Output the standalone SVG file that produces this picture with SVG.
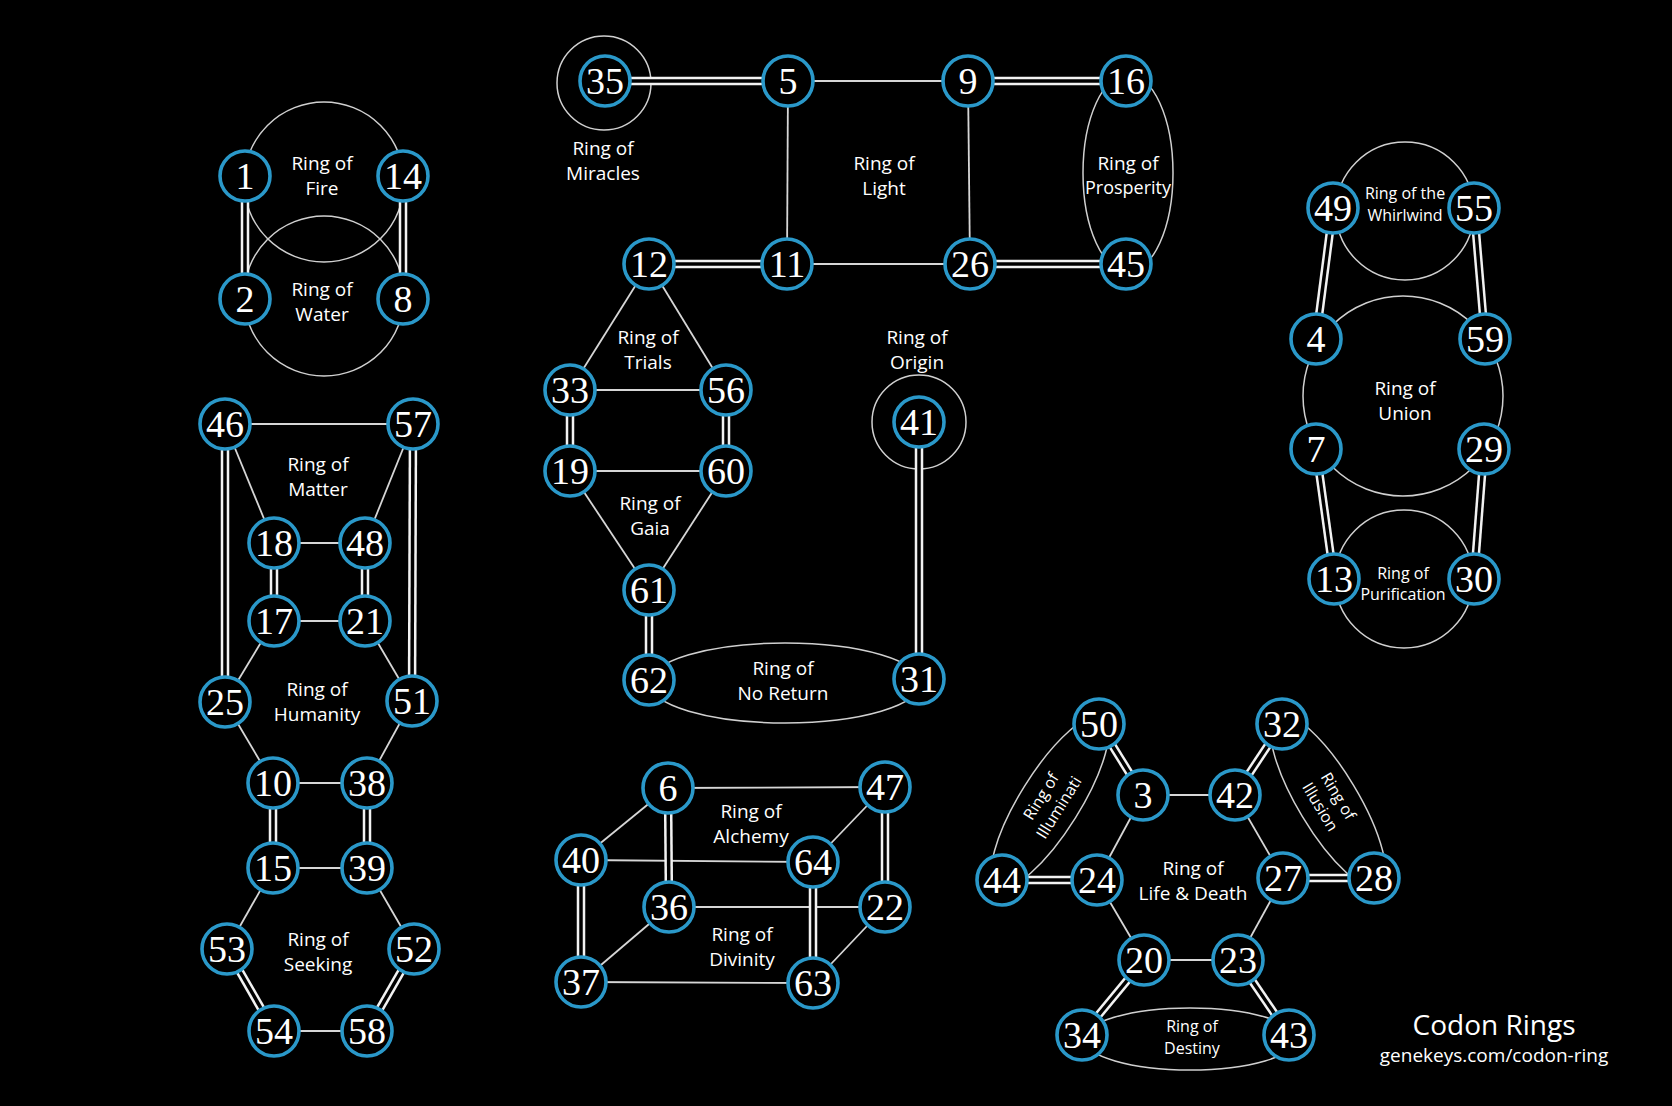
<svg xmlns="http://www.w3.org/2000/svg" width="1672" height="1106" viewBox="0 0 1672 1106">
<style>
.bg{fill:#000}
.ring{fill:none;stroke:#d0d0d0;stroke-width:1.5}
.s{stroke:#d6d6d6;stroke-width:1.8}
.dw{stroke:#f2f2f2;stroke-width:8.5}
.db{stroke:#000;stroke-width:3.5}
.n circle{fill:#000;stroke:#2a98c9;stroke-width:3.6}
.n text{font-family:"Liberation Serif","Times New Roman",serif;font-size:38px;fill:#fff;text-anchor:middle}
.lb{font-family:"Open Sans","Noto Sans",sans-serif;font-size:19px;fill:#fff;text-anchor:middle}
.sm{font-size:16px}
</style>
<rect class="bg" x="0" y="0" width="1672" height="1106"/>
<g id="rings">
<circle class="ring" cx="324" cy="182" r="80"/>
<circle class="ring" cx="324" cy="296" r="80"/>
<circle class="ring" cx="604" cy="83" r="47"/>
<ellipse class="ring" cx="1128" cy="173" rx="45" ry="99"/>
<circle class="ring" cx="919" cy="422" r="47"/>
<ellipse class="ring" cx="785" cy="683" rx="136" ry="40"/>
<circle class="ring" cx="1405" cy="211" r="69"/>
<circle class="ring" cx="1403" cy="396" r="100"/>
<circle class="ring" cx="1404" cy="579" r="69"/>
<ellipse class="ring" cx="1190" cy="1039" rx="106" ry="31"/>
<ellipse class="ring" cx="1050" cy="802" rx="100" ry="30" transform="rotate(-58 1050 802)"/>
<ellipse class="ring" cx="1328" cy="801" rx="100" ry="30" transform="rotate(59 1328 801)"/>
</g>
<g id="connectors">
<g class="s">
<line x1="788" y1="81" x2="968" y2="81"/>
<line x1="788" y1="81" x2="787" y2="264"/>
<line x1="968" y1="81" x2="970" y2="264"/>
<line x1="787" y1="264" x2="970" y2="264"/>
<line x1="649" y1="264" x2="570" y2="390"/>
<line x1="649" y1="264" x2="726" y2="390"/>
<line x1="570" y1="390" x2="726" y2="390"/>
<line x1="570" y1="471" x2="726" y2="471"/>
<line x1="570" y1="471" x2="649" y2="590"/>
<line x1="726" y1="471" x2="649" y2="590"/>
<line x1="225" y1="424" x2="413" y2="424"/>
<line x1="225" y1="424" x2="274" y2="543"/>
<line x1="413" y1="424" x2="365" y2="543"/>
<line x1="274" y1="543" x2="365" y2="543"/>
<line x1="274" y1="621" x2="365" y2="621"/>
<line x1="274" y1="621" x2="225" y2="702"/>
<line x1="365" y1="621" x2="412" y2="701"/>
<line x1="225" y1="702" x2="273" y2="783"/>
<line x1="412" y1="701" x2="367" y2="783"/>
<line x1="273" y1="783" x2="367" y2="783"/>
<line x1="273" y1="868" x2="367" y2="868"/>
<line x1="273" y1="868" x2="227" y2="949"/>
<line x1="367" y1="868" x2="414" y2="949"/>
<line x1="274" y1="1031" x2="367" y2="1031"/>
<line x1="668" y1="788" x2="885" y2="787"/>
<line x1="668" y1="788" x2="581" y2="859"/>
<line x1="885" y1="787" x2="813" y2="862"/>
<line x1="581" y1="860" x2="813" y2="862"/>
<line x1="669" y1="907" x2="885" y2="907"/>
<line x1="669" y1="907" x2="581" y2="982"/>
<line x1="885" y1="907" x2="813" y2="983"/>
<line x1="581" y1="982" x2="813" y2="983"/>
<line x1="1143" y1="795" x2="1235" y2="795"/>
<line x1="1143" y1="795" x2="1097" y2="880"/>
<line x1="1235" y1="795" x2="1283" y2="878"/>
<line x1="1097" y1="880" x2="1144" y2="960"/>
<line x1="1283" y1="878" x2="1238" y2="960"/>
<line x1="1144" y1="960" x2="1238" y2="960"/>
</g>
<g class="dw">
<line x1="245" y1="176" x2="245" y2="299"/>
<line x1="403" y1="176" x2="403" y2="299"/>
<line x1="605" y1="81" x2="788" y2="81"/>
<line x1="968" y1="81" x2="1126" y2="81"/>
<line x1="649" y1="264" x2="787" y2="264"/>
<line x1="970" y1="264" x2="1126" y2="264"/>
<line x1="570" y1="390" x2="570" y2="471"/>
<line x1="726" y1="390" x2="726" y2="471"/>
<line x1="649" y1="590" x2="649" y2="680"/>
<line x1="919" y1="422" x2="919" y2="679"/>
<line x1="225" y1="424" x2="225" y2="702"/>
<line x1="413" y1="424" x2="412" y2="701"/>
<line x1="274" y1="543" x2="274" y2="621"/>
<line x1="365" y1="543" x2="365" y2="621"/>
<line x1="273" y1="783" x2="273" y2="868"/>
<line x1="367" y1="783" x2="367" y2="868"/>
<line x1="227" y1="949" x2="274" y2="1031"/>
<line x1="414" y1="949" x2="367" y2="1031"/>
<line x1="1333" y1="208" x2="1316" y2="339"/>
<line x1="1474" y1="208" x2="1485" y2="339"/>
<line x1="1316" y1="449" x2="1334" y2="579"/>
<line x1="1484" y1="449" x2="1474" y2="579"/>
<line x1="668" y1="788" x2="669" y2="907"/>
<line x1="885" y1="787" x2="885" y2="907"/>
<line x1="581" y1="860" x2="581" y2="982"/>
<line x1="813" y1="862" x2="813" y2="983"/>
<line x1="1099" y1="724" x2="1143" y2="795"/>
<line x1="1235" y1="795" x2="1282" y2="724"/>
<line x1="1002" y1="880" x2="1097" y2="880"/>
<line x1="1283" y1="878" x2="1374" y2="878"/>
<line x1="1144" y1="960" x2="1082" y2="1035"/>
<line x1="1238" y1="960" x2="1289" y2="1035"/>
</g>
<g class="db">
<line x1="245" y1="176" x2="245" y2="299"/>
<line x1="403" y1="176" x2="403" y2="299"/>
<line x1="605" y1="81" x2="788" y2="81"/>
<line x1="968" y1="81" x2="1126" y2="81"/>
<line x1="649" y1="264" x2="787" y2="264"/>
<line x1="970" y1="264" x2="1126" y2="264"/>
<line x1="570" y1="390" x2="570" y2="471"/>
<line x1="726" y1="390" x2="726" y2="471"/>
<line x1="649" y1="590" x2="649" y2="680"/>
<line x1="919" y1="422" x2="919" y2="679"/>
<line x1="225" y1="424" x2="225" y2="702"/>
<line x1="413" y1="424" x2="412" y2="701"/>
<line x1="274" y1="543" x2="274" y2="621"/>
<line x1="365" y1="543" x2="365" y2="621"/>
<line x1="273" y1="783" x2="273" y2="868"/>
<line x1="367" y1="783" x2="367" y2="868"/>
<line x1="227" y1="949" x2="274" y2="1031"/>
<line x1="414" y1="949" x2="367" y2="1031"/>
<line x1="1333" y1="208" x2="1316" y2="339"/>
<line x1="1474" y1="208" x2="1485" y2="339"/>
<line x1="1316" y1="449" x2="1334" y2="579"/>
<line x1="1484" y1="449" x2="1474" y2="579"/>
<line x1="668" y1="788" x2="669" y2="907"/>
<line x1="885" y1="787" x2="885" y2="907"/>
<line x1="581" y1="860" x2="581" y2="982"/>
<line x1="813" y1="862" x2="813" y2="983"/>
<line x1="1099" y1="724" x2="1143" y2="795"/>
<line x1="1235" y1="795" x2="1282" y2="724"/>
<line x1="1002" y1="880" x2="1097" y2="880"/>
<line x1="1283" y1="878" x2="1374" y2="878"/>
<line x1="1144" y1="960" x2="1082" y2="1035"/>
<line x1="1238" y1="960" x2="1289" y2="1035"/>
</g>
</g>
<g id="labels" class="lb">
<text x="322" y="170">Ring of</text><text x="322" y="195">Fire</text>
<text x="322" y="296">Ring of</text><text x="322" y="321">Water</text>
<text x="603" y="155">Ring of</text><text x="603" y="180">Miracles</text>
<text x="884" y="170">Ring of</text><text x="884" y="195">Light</text>
<text x="1128" y="170">Ring of</text><text x="1128" y="194" style="font-size:18px">Prosperity</text>
<text x="648" y="344">Ring of</text><text x="648" y="369">Trials</text>
<text x="650" y="510">Ring of</text><text x="650" y="535">Gaia</text>
<text x="917" y="344">Ring of</text><text x="917" y="369">Origin</text>
<text x="783" y="675">Ring of</text><text x="783" y="700">No Return</text>
<text x="318" y="471">Ring of</text><text x="318" y="496">Matter</text>
<text x="317" y="696">Ring of</text><text x="317" y="721">Humanity</text>
<text x="318" y="946">Ring of</text><text x="318" y="971">Seeking</text>
<text class="sm" x="1405" y="199">Ring of the</text><text class="sm" x="1405" y="221">Whirlwind</text>
<text x="1405" y="395">Ring of</text><text x="1405" y="420">Union</text>
<text class="sm" x="1403" y="579">Ring of</text><text class="sm" x="1403" y="600">Purification</text>
<text x="751" y="818">Ring of</text><text x="751" y="843">Alchemy</text>
<text x="742" y="941">Ring of</text><text x="742" y="966">Divinity</text>
<text x="1193" y="875">Ring of</text><text x="1193" y="900">Life &amp; Death</text>
<text class="sm" x="1192" y="1032">Ring of</text><text class="sm" x="1192" y="1054">Destiny</text>
<g transform="rotate(-58 1050 802)"><text class="sm" x="1050" y="797">Ring of</text><text class="sm" x="1050" y="818">Illuminati</text></g>
<g transform="rotate(59 1330 801)"><text class="sm" x="1330" y="797">Ring of</text><text class="sm" x="1330" y="818">Illusion</text></g>
<text x="1494" y="1035" style="font-size:28px">Codon Rings</text>
<text x="1494" y="1062" style="font-size:19px">genekeys.com/codon-ring</text>
</g>
<g id="nodes">
<g id="n1" class="n"><circle cx="245" cy="176" r="25"/><text x="245" y="189">1</text></g>
<g id="n14" class="n"><circle cx="403" cy="176" r="25"/><text x="403" y="189">14</text></g>
<g id="n2" class="n"><circle cx="245" cy="299" r="25"/><text x="245" y="312">2</text></g>
<g id="n8" class="n"><circle cx="403" cy="299" r="25"/><text x="403" y="312">8</text></g>
<g id="n35" class="n"><circle cx="605" cy="81" r="25"/><text x="605" y="94">35</text></g>
<g id="n5" class="n"><circle cx="788" cy="81" r="25"/><text x="788" y="94">5</text></g>
<g id="n9" class="n"><circle cx="968" cy="81" r="25"/><text x="968" y="94">9</text></g>
<g id="n16" class="n"><circle cx="1126" cy="81" r="25"/><text x="1126" y="94">16</text></g>
<g id="n12" class="n"><circle cx="649" cy="264" r="25"/><text x="649" y="277">12</text></g>
<g id="n11" class="n"><circle cx="787" cy="264" r="25"/><text x="787" y="277">11</text></g>
<g id="n26" class="n"><circle cx="970" cy="264" r="25"/><text x="970" y="277">26</text></g>
<g id="n45" class="n"><circle cx="1126" cy="264" r="25"/><text x="1126" y="277">45</text></g>
<g id="n33" class="n"><circle cx="570" cy="390" r="25"/><text x="570" y="403">33</text></g>
<g id="n56" class="n"><circle cx="726" cy="390" r="25"/><text x="726" y="403">56</text></g>
<g id="n19" class="n"><circle cx="570" cy="471" r="25"/><text x="570" y="484">19</text></g>
<g id="n60" class="n"><circle cx="726" cy="471" r="25"/><text x="726" y="484">60</text></g>
<g id="n61" class="n"><circle cx="649" cy="590" r="25"/><text x="649" y="603">61</text></g>
<g id="n62" class="n"><circle cx="649" cy="680" r="25"/><text x="649" y="693">62</text></g>
<g id="n31" class="n"><circle cx="919" cy="679" r="25"/><text x="919" y="692">31</text></g>
<g id="n41" class="n"><circle cx="919" cy="422" r="25"/><text x="919" y="435">41</text></g>
<g id="n46" class="n"><circle cx="225" cy="424" r="25"/><text x="225" y="437">46</text></g>
<g id="n57" class="n"><circle cx="413" cy="424" r="25"/><text x="413" y="437">57</text></g>
<g id="n18" class="n"><circle cx="274" cy="543" r="25"/><text x="274" y="556">18</text></g>
<g id="n48" class="n"><circle cx="365" cy="543" r="25"/><text x="365" y="556">48</text></g>
<g id="n17" class="n"><circle cx="274" cy="621" r="25"/><text x="274" y="634">17</text></g>
<g id="n21" class="n"><circle cx="365" cy="621" r="25"/><text x="365" y="634">21</text></g>
<g id="n25" class="n"><circle cx="225" cy="702" r="25"/><text x="225" y="715">25</text></g>
<g id="n51" class="n"><circle cx="412" cy="701" r="25"/><text x="412" y="714">51</text></g>
<g id="n10" class="n"><circle cx="273" cy="783" r="25"/><text x="273" y="796">10</text></g>
<g id="n38" class="n"><circle cx="367" cy="783" r="25"/><text x="367" y="796">38</text></g>
<g id="n15" class="n"><circle cx="273" cy="868" r="25"/><text x="273" y="881">15</text></g>
<g id="n39" class="n"><circle cx="367" cy="868" r="25"/><text x="367" y="881">39</text></g>
<g id="n53" class="n"><circle cx="227" cy="949" r="25"/><text x="227" y="962">53</text></g>
<g id="n52" class="n"><circle cx="414" cy="949" r="25"/><text x="414" y="962">52</text></g>
<g id="n54" class="n"><circle cx="274" cy="1031" r="25"/><text x="274" y="1044">54</text></g>
<g id="n58" class="n"><circle cx="367" cy="1031" r="25"/><text x="367" y="1044">58</text></g>
<g id="n49" class="n"><circle cx="1333" cy="208" r="25"/><text x="1333" y="221">49</text></g>
<g id="n55" class="n"><circle cx="1474" cy="208" r="25"/><text x="1474" y="221">55</text></g>
<g id="n4" class="n"><circle cx="1316" cy="339" r="25"/><text x="1316" y="352">4</text></g>
<g id="n59" class="n"><circle cx="1485" cy="339" r="25"/><text x="1485" y="352">59</text></g>
<g id="n7" class="n"><circle cx="1316" cy="449" r="25"/><text x="1316" y="462">7</text></g>
<g id="n29" class="n"><circle cx="1484" cy="449" r="25"/><text x="1484" y="462">29</text></g>
<g id="n13" class="n"><circle cx="1334" cy="579" r="25"/><text x="1334" y="592">13</text></g>
<g id="n30" class="n"><circle cx="1474" cy="579" r="25"/><text x="1474" y="592">30</text></g>
<g id="n6" class="n"><circle cx="668" cy="788" r="25"/><text x="668" y="801">6</text></g>
<g id="n47" class="n"><circle cx="885" cy="787" r="25"/><text x="885" y="800">47</text></g>
<g id="n40" class="n"><circle cx="581" cy="860" r="25"/><text x="581" y="873">40</text></g>
<g id="n64" class="n"><circle cx="813" cy="862" r="25"/><text x="813" y="875">64</text></g>
<g id="n36" class="n"><circle cx="669" cy="907" r="25"/><text x="669" y="920">36</text></g>
<g id="n22" class="n"><circle cx="885" cy="907" r="25"/><text x="885" y="920">22</text></g>
<g id="n37" class="n"><circle cx="581" cy="982" r="25"/><text x="581" y="995">37</text></g>
<g id="n63" class="n"><circle cx="813" cy="983" r="25"/><text x="813" y="996">63</text></g>
<g id="n50" class="n"><circle cx="1099" cy="724" r="25"/><text x="1099" y="737">50</text></g>
<g id="n32" class="n"><circle cx="1282" cy="724" r="25"/><text x="1282" y="737">32</text></g>
<g id="n3" class="n"><circle cx="1143" cy="795" r="25"/><text x="1143" y="808">3</text></g>
<g id="n42" class="n"><circle cx="1235" cy="795" r="25"/><text x="1235" y="808">42</text></g>
<g id="n44" class="n"><circle cx="1002" cy="880" r="25"/><text x="1002" y="893">44</text></g>
<g id="n24" class="n"><circle cx="1097" cy="880" r="25"/><text x="1097" y="893">24</text></g>
<g id="n27" class="n"><circle cx="1283" cy="878" r="25"/><text x="1283" y="891">27</text></g>
<g id="n28" class="n"><circle cx="1374" cy="878" r="25"/><text x="1374" y="891">28</text></g>
<g id="n20" class="n"><circle cx="1144" cy="960" r="25"/><text x="1144" y="973">20</text></g>
<g id="n23" class="n"><circle cx="1238" cy="960" r="25"/><text x="1238" y="973">23</text></g>
<g id="n34" class="n"><circle cx="1082" cy="1035" r="25"/><text x="1082" y="1048">34</text></g>
<g id="n43" class="n"><circle cx="1289" cy="1035" r="25"/><text x="1289" y="1048">43</text></g>
</g>
</svg>
